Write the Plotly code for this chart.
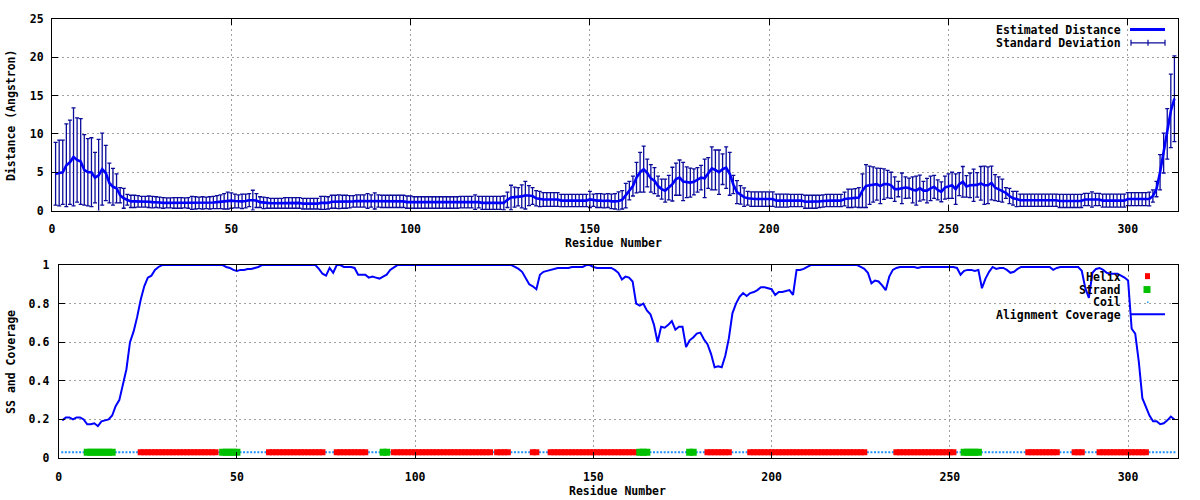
import plotly.graph_objects as go

# ---------------- data ----------------
distance = [
    4.8, 4.9, 5.0, 5.9, 6.3, 7.0, 6.6, 6.4, 5.3, 5.0,
    5.0, 4.3, 4.6, 5.4, 4.9, 3.6, 3.1, 2.9, 2.0, 1.6,
    1.4, 1.2, 1.2, 1.2, 1.15, 1.15, 1.15, 1.1, 1.1, 1.05,
    1.0, 1.0, 1.0, 1.0, 1.0, 1.0, 1.0, 1.0, 1.0, 1.0,
    1.0, 1.0, 1.0, 1.0, 1.05, 1.1, 1.15, 1.2, 1.3, 1.3,
    1.25, 1.2, 1.2, 1.25, 1.35, 1.35, 1.3, 1.1, 1.0, 1.0,
    0.95, 0.95, 0.95, 0.95, 1.0, 1.0, 1.0, 1.0, 1.0, 0.9,
    0.9, 0.9, 0.9, 0.9, 1.0, 1.0, 1.0, 1.15, 1.15, 1.15,
    1.15, 1.15, 1.15, 1.2, 1.25, 1.25, 1.25, 1.25, 1.25, 1.25,
    1.25, 1.2, 1.2, 1.2, 1.2, 1.2, 1.2, 1.2, 1.1, 1.1,
    1.05, 1.05, 1.05, 1.05, 1.05, 1.05, 1.05, 1.05, 1.05, 1.05,
    1.05, 1.05, 1.05, 1.1, 1.1, 1.1, 1.1, 1.1, 1.1, 1.0,
    1.0, 1.0, 1.0, 1.0, 1.0, 1.0, 1.4, 1.7, 1.75, 1.8,
    1.85, 2.0, 1.95, 1.9, 1.6, 1.5, 1.45, 1.45, 1.45, 1.45,
    1.45, 1.3, 1.3, 1.3, 1.3, 1.3, 1.3, 1.3, 1.3, 1.45,
    1.35, 1.3, 1.3, 1.25, 1.3, 1.2, 1.2, 1.25, 1.4, 1.95,
    2.6, 3.2, 4.3, 5.0, 5.4, 4.9, 4.2, 3.9, 3.2, 2.8,
    2.6, 3.0, 3.45, 4.1, 4.3, 3.8, 3.7, 3.65, 3.75, 4.0,
    4.3, 4.2, 4.9, 5.5, 5.3, 5.0, 5.4, 5.6, 4.8, 3.4,
    2.4, 2.05, 1.75, 1.6, 1.5, 1.5, 1.5, 1.5, 1.5, 1.5,
    1.5, 1.3, 1.3, 1.3, 1.3, 1.3, 1.3, 1.3, 1.3, 1.15,
    1.15, 1.15, 1.15, 1.2, 1.25, 1.3, 1.3, 1.3, 1.3, 1.3,
    1.5, 1.6, 1.6, 1.65, 1.7, 2.6, 3.2, 3.3, 3.4, 3.45,
    3.2, 3.45, 3.45, 3.3, 2.8, 2.8, 2.9, 3.0, 2.93, 2.7,
    2.6, 2.93, 2.6, 2.6, 2.9, 3.1, 2.7, 2.45, 3.0, 3.2,
    3.3, 2.8, 3.45, 3.75, 3.15, 3.3, 3.3, 3.35, 3.55, 3.3,
    3.3, 3.6, 3.0, 2.8, 2.6, 2.3, 1.9, 1.6, 1.5, 1.35,
    1.35, 1.35, 1.35, 1.35, 1.35, 1.35, 1.35, 1.35, 1.35, 1.35,
    1.25, 1.25, 1.25, 1.25, 1.25, 1.25, 1.25, 1.45, 1.45, 1.45,
    1.45, 1.45, 1.3, 1.3, 1.3, 1.3, 1.3, 1.3, 1.3, 1.5,
    1.5, 1.5, 1.5, 1.5, 1.5, 1.5, 1.9, 2.8, 5.0, 7.5,
    10.0, 13.0, 14.6,
]

std_dev = [
    4.1, 4.3, 4.2, 5.4, 5.5, 6.4, 5.5, 5.6, 4.6, 4.4,
    4.5, 3.3, 4.7, 4.7, 3.6, 2.6, 2.4, 1.9, 1.0, 1.3,
    0.7, 0.8, 0.8, 0.75, 0.7, 0.7, 0.75, 0.75, 0.7, 0.7,
    0.7, 0.65, 0.65, 0.7, 0.7, 0.7, 0.65, 0.7, 0.85, 0.8,
    0.75, 0.8, 0.75, 0.8, 0.8, 0.85, 0.9, 1.0, 1.1, 1.0,
    0.9, 0.85, 0.95, 0.9, 0.85, 1.3, 0.9, 0.7, 0.75, 0.7,
    0.65, 0.65, 0.65, 0.65, 0.7, 0.7, 0.7, 0.7, 0.7, 0.7,
    0.7, 0.7, 0.7, 0.7, 0.85, 0.85, 0.8, 0.85, 0.85, 0.9,
    0.85, 0.85, 0.8, 0.75, 0.8, 0.8, 0.8, 0.95, 0.8, 1.05,
    0.8, 0.8, 0.8, 0.8, 0.8, 0.8, 0.8, 0.8, 0.8, 0.8,
    0.75, 0.75, 0.75, 0.75, 0.75, 0.75, 0.75, 0.75, 0.75, 0.75,
    0.75, 0.75, 0.75, 0.75, 0.75, 0.75, 0.75, 0.95, 0.75, 0.85,
    0.85, 0.85, 0.85, 0.85, 0.85, 0.9, 1.0, 1.6, 1.3, 1.2,
    1.5, 1.8, 1.3, 1.1, 1.0, 1.0, 0.9, 0.9, 0.9, 0.9,
    0.9, 0.8, 0.8, 0.8, 0.8, 0.8, 0.8, 0.8, 0.8, 1.05,
    0.8, 0.9, 0.9, 0.9, 0.9, 0.95, 1.0, 1.2, 1.2, 1.6,
    1.2, 1.3, 2.0, 2.6, 3.0, 1.8, 1.8, 1.7, 1.3, 1.3,
    1.5, 1.6, 2.2, 2.1, 2.3, 2.5, 2.0, 1.9, 1.7, 1.6,
    1.6, 2.5, 2.0, 2.8, 2.6, 2.9, 2.0, 2.7, 2.8, 1.2,
    1.5, 1.2, 1.2, 0.9, 0.95, 0.95, 0.95, 0.95, 0.95, 0.95,
    0.95, 0.85, 0.85, 0.85, 0.85, 0.8, 0.8, 0.8, 0.8, 0.85,
    0.85, 0.85, 0.85, 0.8, 0.8, 0.8, 0.8, 0.8, 0.8, 0.8,
    0.9, 1.2, 1.2, 1.2, 1.3, 2.2, 2.8, 2.5, 2.3, 2.1,
    2.3, 2.0, 1.8, 1.7, 1.6, 1.0, 2.0, 1.4, 1.3, 1.7,
    1.9, 1.7, 1.2, 1.6, 1.6, 1.5, 1.3, 1.3, 1.5, 1.6,
    1.7, 2.0, 1.5, 2.0, 1.4, 1.6, 2.1, 1.6, 2.2, 2.5,
    2.4, 2.2, 1.7, 1.6, 1.5, 0.7, 1.0, 0.9, 1.0, 0.8,
    0.8, 0.8, 0.8, 0.8, 0.8, 0.8, 0.8, 0.8, 0.8, 0.8,
    0.85, 0.85, 0.85, 0.85, 0.85, 0.85, 0.85, 0.8, 0.8, 1.0,
    0.8, 0.8, 0.85, 0.85, 0.85, 0.85, 0.85, 0.85, 0.85, 0.85,
    0.85, 0.85, 0.85, 0.85, 0.85, 0.9, 0.8, 1.0, 2.3, 2.6,
    3.3, 4.8, 5.6,
]

coverage = [
    0.195, 0.21, 0.21, 0.20, 0.21, 0.21, 0.20, 0.175, 0.175, 0.18,
    0.165, 0.19, 0.195, 0.20, 0.22, 0.27, 0.30, 0.38, 0.46, 0.60,
    0.655, 0.73, 0.82, 0.89, 0.935, 0.945, 0.975, 0.99, 1.0, 1.0,
    1.0, 1.0, 1.0, 1.0, 1.0, 1.0, 1.0, 1.0, 1.0, 1.0,
    1.0, 1.0, 1.0, 1.0, 1.0, 1.0, 0.99, 0.985, 0.975, 0.97,
    0.975, 0.975, 0.98, 0.98, 0.985, 0.99, 1.0, 1.0, 1.0, 1.0,
    1.0, 1.0, 1.0, 1.0, 1.0, 1.0, 1.0, 1.0, 1.0, 1.0,
    1.0, 1.0, 0.98, 0.955, 0.945, 0.985, 0.96, 1.0, 1.0, 0.99,
    0.99, 0.99, 0.985, 0.95, 0.95, 0.95, 0.935, 0.94, 0.935, 0.93,
    0.94, 0.95, 0.975, 0.99, 1.0, 1.0, 1.0, 1.0, 1.0, 1.0,
    1.0, 1.0, 1.0, 1.0, 1.0, 1.0, 1.0, 1.0, 1.0, 1.0,
    1.0, 1.0, 1.0, 1.0, 1.0, 1.0, 1.0, 1.0, 1.0, 1.0,
    1.0, 1.0, 1.0, 1.0, 1.0, 1.0, 1.0, 0.99, 0.98, 0.965,
    0.935, 0.90, 0.89, 0.875, 0.95, 0.965, 0.97, 0.975, 0.98, 0.985,
    0.985, 0.985, 0.985, 0.99, 0.99, 0.99, 0.99, 1.0, 1.0, 0.99,
    0.985, 0.985, 0.985, 0.985, 0.985, 0.975, 0.96, 0.925, 0.94, 0.935,
    0.915, 0.80, 0.79, 0.80, 0.765, 0.745, 0.69, 0.60, 0.68, 0.675,
    0.69, 0.71, 0.665, 0.68, 0.68, 0.575, 0.61, 0.625, 0.645, 0.65,
    0.615, 0.59, 0.54, 0.47, 0.475, 0.47, 0.53, 0.62, 0.75, 0.80,
    0.835, 0.855, 0.84, 0.855, 0.86, 0.87, 0.885, 0.885, 0.88, 0.875,
    0.845, 0.86, 0.86, 0.865, 0.87, 0.845, 0.975, 0.975, 0.98, 0.99,
    1.0, 1.0, 1.0, 1.0, 1.0, 1.0, 1.0, 1.0, 1.0, 1.0,
    1.0, 1.0, 1.0, 1.0, 0.99, 0.98, 0.96, 0.905, 0.92, 0.915,
    0.895, 0.87, 0.94, 0.975, 0.985, 0.99, 0.99, 0.99, 0.99, 0.99,
    0.985, 0.99, 0.99, 0.99, 0.99, 0.99, 0.99, 0.99, 0.99, 0.99,
    0.99, 0.985, 0.95, 0.97, 0.975, 0.975, 0.97, 0.975, 0.88, 0.93,
    0.965, 0.99, 0.98, 0.985, 0.985, 0.975, 0.96, 0.965, 0.98, 0.99,
    0.99, 0.99, 0.99, 0.99, 0.99, 0.99, 0.99, 0.99, 0.975, 0.985,
    0.99, 0.99, 0.99, 0.99, 0.99, 0.99, 0.97, 0.88, 0.83, 0.96,
    0.98, 0.985, 0.975, 0.96, 0.955, 0.955, 0.955, 0.945, 0.935, 0.92,
    0.67, 0.645, 0.5, 0.31, 0.26, 0.22, 0.19, 0.19, 0.175, 0.18,
    0.195, 0.215, 0.20,
]

# secondary-structure segments (first residue, last residue)
helix_segments = [(23, 44), (59, 74), (78, 86), (94, 121), (123, 126), (133, 134),
                  (138, 162), (182, 188), (194, 226), (235, 251), (272, 280),
                  (285, 287), (292, 305)]
strand_segments = [(8, 15), (46, 50), (91, 92), (163, 165), (177, 178), (254, 258)]
ss_level = 0.03

x_ticks = [0, 50, 100, 150, 200, 250, 300]
dist_ticks = [0, 5, 10, 15, 20, 25]
cov_ticks = [0, 0.2, 0.4, 0.6, 0.8, 1]
x_max = 314

# ---------------- derived ----------------
n_res = len(distance)
residues = list(range(1, n_res + 1))
ss = ["C"] * n_res
for a, b in helix_segments:
    for r in range(a, b + 1):
        ss[r - 1] = "H"
for a, b in strand_segments:
    for r in range(a, b + 1):
        ss[r - 1] = "E"
helix_x = [r for r, s in zip(residues, ss) if s == "H"]
strand_x = [r for r, s in zip(residues, ss) if s == "E"]
coil_x = [r for r, s in zip(residues, ss) if s == "C"]

BLUE = "#0000ff"
NAVY = "#0a0a9a"
RED = "#ff0000"
GREEN = "#00c000"
COIL = "#1e90ff"
FONT = "DejaVu Sans Mono"

fig = go.Figure()

# top panel
fig.add_trace(go.Scatter(
    x=residues, y=distance, mode="markers",
    marker=dict(size=1, color="rgba(0,0,0,0)"),
    error_y=dict(type="data", array=std_dev, visible=True, color=NAVY,
                 thickness=1.3, width=2),
    xaxis="x", yaxis="y", hoverinfo="skip"))
fig.add_trace(go.Scatter(
    x=residues, y=distance, mode="lines",
    line=dict(color=BLUE, width=2.6), xaxis="x", yaxis="y"))

# bottom panel
fig.add_trace(go.Scatter(
    x=coil_x, y=[ss_level] * len(coil_x), mode="markers",
    marker=dict(symbol="square", size=2, color=COIL, line=dict(width=0)),
    xaxis="x2", yaxis="y2"))
fig.add_trace(go.Scatter(
    x=helix_x, y=[ss_level] * len(helix_x), mode="markers",
    marker=dict(symbol="square", size=6, color=RED, line=dict(width=0)),
    xaxis="x2", yaxis="y2"))
fig.add_trace(go.Scatter(
    x=strand_x, y=[ss_level] * len(strand_x), mode="markers",
    marker=dict(symbol="square", size=7, color=GREEN, line=dict(width=0)),
    xaxis="x2", yaxis="y2"))
fig.add_trace(go.Scatter(
    x=residues, y=coverage, mode="lines",
    line=dict(color=BLUE, width=2), xaxis="x2", yaxis="y2"))

axis_common = dict(
    showline=True, linecolor="black", linewidth=1, mirror="ticks",
    ticks="inside", ticklen=6, tickcolor="black", tickwidth=1,
    showgrid=True, gridcolor="#a0a0a0", griddash="2px,3px", gridwidth=1,
    zeroline=False,
    tickfont=dict(family=FONT, size=11.5, color="black", weight="bold"),
)

L, R, T, B = 52, 22, 15, 42
W, H = 1200, 500
PW, PH = W - L - R, H - T - B

def px(x):
    return (x - L) / PW

def py(y):
    return (H - B - y) / PH

fig.update_layout(
    width=W, height=H,
    margin=dict(l=L, r=R, t=T, b=B, pad=0),
    paper_bgcolor="white", plot_bgcolor="white",
    showlegend=False,
    font=dict(family=FONT, size=11.5, color="black", weight="bold"),
    xaxis=dict(domain=[0, 1], anchor="y", range=[0, x_max], tickvals=x_ticks,
               ticklabelstandoff=8, **axis_common),
    yaxis=dict(domain=[py(208.3), 1], anchor="x", range=[0, 25], tickvals=dist_ticks,
               ticklabelstandoff=5, **axis_common),
    xaxis2=dict(domain=[px(58.7), 1], anchor="y2", range=[0, x_max], tickvals=x_ticks,
                ticklabelstandoff=8, **axis_common),
    yaxis2=dict(domain=[0, py(263.3)], anchor="x2", range=[0, 1], tickvals=cov_ticks,
                ticklabelstandoff=6, **axis_common),
)

ann = []
def text(x, y, s, xanchor="center", angle=0):
    ann.append(dict(x=px(x), y=py(y), xref="paper", yref="paper", text=s,
                    showarrow=False, xanchor=xanchor, yanchor="middle",
                    textangle=angle,
                    font=dict(family=FONT, size=11.5, color="black", weight="bold")))

text(613, 241, "Residue Number")
text(617, 491, "Residue Number")
text(11, 112, "Distance (Angstron)", angle=-90)
text(11, 361, "SS and Coverage", angle=-90)
text(1123, 26, "Estimated Distance", xanchor="right")
text(1123, 39, "Standard Deviation", xanchor="right")
text(1123, 275, "Helix", xanchor="right")
text(1123, 288, "Strand", xanchor="right")
text(1123, 301, "Coil", xanchor="right")
text(1123, 314, "Alignment Coverage", xanchor="right")

shapes = []
# key boxes clear the grid behind them
shapes.append(dict(type="rect", xref="x domain", yref="y domain",
                   x0=(995 - 52) / 1126, x1=(1173 - 52) / 1126,
                   y0=(208.3 - 47) / 193.3, y1=(208.3 - 16) / 193.3,
                   fillcolor="white", line=dict(width=0), layer="below"))
shapes.append(dict(type="rect", xref="x2 domain", yref="y2 domain",
                   x0=(998 - 58.7) / 1119.3, x1=(1173 - 58.7) / 1119.3,
                   y0=(458.3 - 320) / 195, y1=(458.3 - 268) / 195,
                   fillcolor="white", line=dict(width=0), layer="below"))

def pline(x0, y0, x1, y1, color, width):
    shapes.append(dict(type="line", xref="paper", yref="paper",
                       x0=px(x0), y0=py(y0), x1=px(x1), y1=py(y1),
                       line=dict(color=color, width=width)))

def prect(x0, y0, x1, y1, color):
    shapes.append(dict(type="rect", xref="paper", yref="paper",
                       x0=px(x0), y0=py(y0), x1=px(x1), y1=py(y1),
                       fillcolor=color, line=dict(width=0)))

# key samples
pline(1130, 25.5, 1165, 25.5, BLUE, 3)
pline(1131, 39, 1165, 39, NAVY, 1.2)
pline(1131, 36, 1131, 42, NAVY, 1.2)
pline(1165, 36, 1165, 42, NAVY, 1.2)
pline(1148, 36, 1148, 42, NAVY, 1.2)
prect(1145, 271.5, 1150, 277.5, RED)
prect(1143.5, 284.5, 1150.5, 291.5, GREEN)
prect(1147, 300, 1148.5, 301.5, COIL)
pline(1131, 313, 1165, 313, BLUE, 2)

fig.update_layout(annotations=ann, shapes=shapes)

fig.write_html(
    "out.html",
    config={"displayModeBar": False},
    post_script="document.body.style.margin='0';document.body.style.overflow='hidden';",
)
